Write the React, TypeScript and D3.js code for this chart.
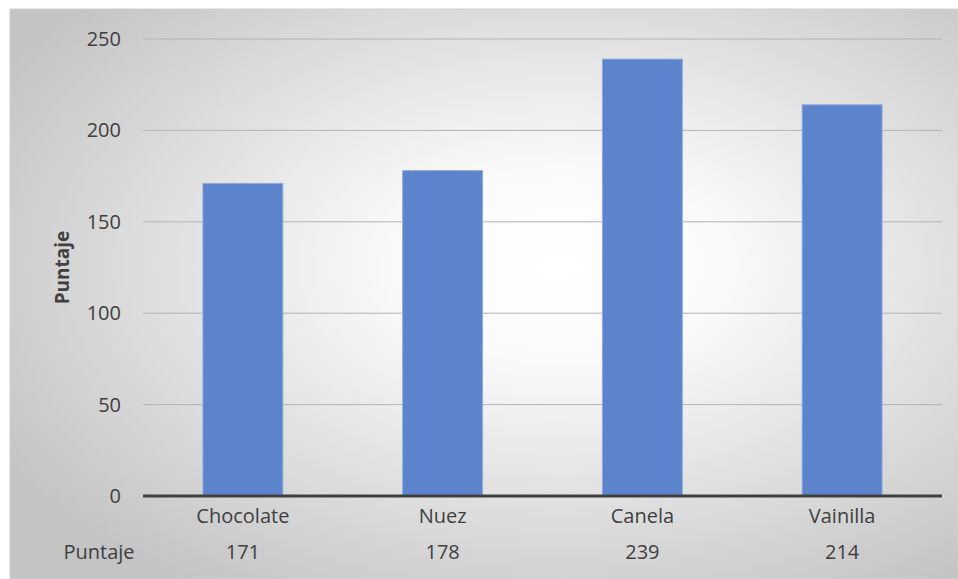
import React from 'react';
import * as d3 from 'd3';

const categories = ['Chocolate', 'Nuez', 'Canela', 'Vainilla'];
const values = [171, 178, 239, 214];
const seriesName = 'Puntaje';
const yTicks = [0, 50, 100, 150, 200, 250];

const W = 958;
const H = 579;
const font = '"Open Sans", "Noto Sans", sans-serif';
const textColor = '#404040';

export default function App() {
  const left = 143, right = 942, top = 39, bottom = 496;

  const x = d3.scaleBand<string>()
    .domain(categories)
    .range([left, right])
    .paddingInner(0.6)
    .paddingOuter(0.3);

  const y = d3.scaleLinear()
    .domain([0, 250])
    .range([bottom, top]);

  const center = (c: string) => (x(c) as number) + x.bandwidth() / 2;

  return (
    <svg width={W} height={H} style={{ position: 'absolute', left: 0, top: 0 }}>
      <defs>
        <radialGradient id="bg" cx="58%" cy="45%" r="68%">
          <stop offset="0%" stopColor="#ffffff" />
          <stop offset="25%" stopColor="#fafafa" />
          <stop offset="100%" stopColor="#c4c4c4" />
        </radialGradient>
      </defs>
      <rect x={10} y={9} width={W - 10} height={H - 9} fill="url(#bg)" stroke="#d0d0d0" />

      {yTicks.slice(1).map(t => (
        <line key={t} x1={left} x2={right} y1={y(t)} y2={y(t)} stroke="#b4b4b4" strokeWidth={1} />
      ))}

      {categories.map((c, i) => (
        <rect key={c}
          x={x(c)} y={y(values[i])}
          width={x.bandwidth()} height={bottom - y(values[i])}
          fill="#5b84cc" stroke="#8faadc" strokeWidth={1} />
      ))}

      <line x1={left} x2={right} y1={bottom} y2={bottom} stroke="#404040" strokeWidth={3} />

      {yTicks.map(t => (
        <text key={t} x={121} y={y(t)} dy="0.35em" textAnchor="end"
          fontFamily={font} fontSize={20} fill={textColor}>{t}</text>
      ))}

      {categories.map((c, i) => (
        <g key={c}>
          <text x={center(c)} y={516} dy="0.35em" textAnchor="middle"
            fontFamily={font} fontSize={20} fill={textColor}>{c}</text>
          <text x={center(c)} y={552} dy="0.35em" textAnchor="middle"
            fontFamily={font} fontSize={20} fill={textColor}>{values[i]}</text>
        </g>
      ))}

      <text x={99} y={552} dy="0.35em" textAnchor="middle"
        fontFamily={font} fontSize={20} fill={textColor}>{seriesName}</text>

      <text transform={`translate(62,${(top + bottom) / 2}) rotate(-90)`} dy="0.35em" textAnchor="middle"
        fontFamily={font} fontSize={19} fontWeight="bold" fill={textColor}>{seriesName}</text>
    </svg>
  );
}
